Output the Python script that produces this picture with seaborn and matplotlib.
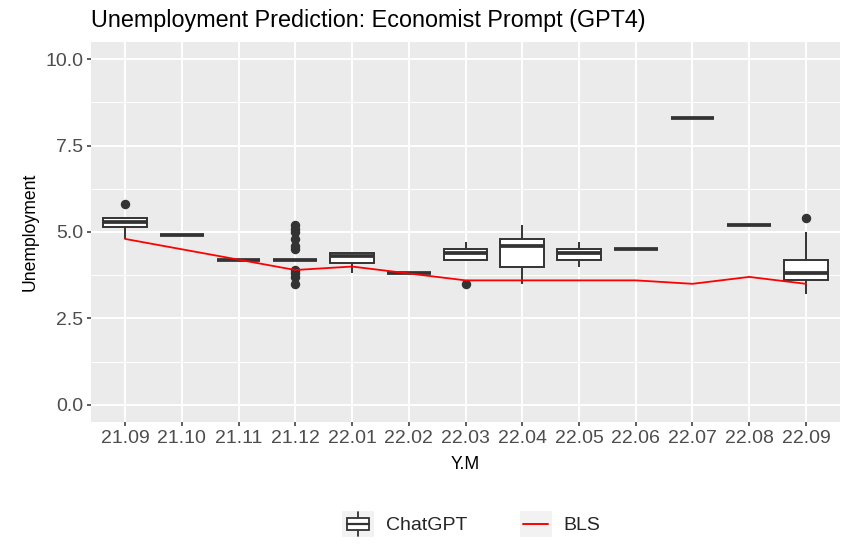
import numpy as np
import pandas as pd
import seaborn as sns
import matplotlib.pyplot as plt
from matplotlib.patches import Rectangle
from matplotlib.lines import Line2D
from matplotlib.legend_handler import HandlerBase
from matplotlib.ticker import MultipleLocator, FormatStrFormatter

months = ["21.09", "21.10", "21.11", "21.12", "22.01", "22.02", "22.03",
          "22.04", "22.05", "22.06", "22.07", "22.08", "22.09"]

# ChatGPT predictions per month
pred_2109 = [4.8, 5.1, 5.15, 5.2, 5.3, 5.4, 5.4, 5.4, 5.8]
pred_2110 = [4.9, 4.9, 4.9, 4.9, 4.9]
pred_2111 = [4.2, 4.2, 4.2, 4.2, 4.2]
pred_2112 = [4.2] * 30 + [5.2, 5.1, 5.0, 4.8, 4.6, 4.5, 3.9, 3.8, 3.7, 3.5]
pred_2201 = [3.8, 4.0, 4.1, 4.2, 4.3, 4.4, 4.4, 4.4, 4.4]
pred_2202 = [3.8, 3.8, 3.8, 3.8, 3.8]
pred_2203 = [3.5, 4.2, 4.2, 4.3, 4.4, 4.4, 4.5, 4.6, 4.7]
pred_2204 = [3.5, 3.8, 4.0, 4.4, 4.6, 4.7, 4.8, 5.0, 5.2]
pred_2205 = [4.0, 4.1, 4.2, 4.3, 4.4, 4.5, 4.5, 4.6, 4.7]
pred_2206 = [4.5, 4.5, 4.5, 4.5, 4.5]
pred_2207 = [8.3, 8.3, 8.3, 8.3, 8.3]
pred_2208 = [5.2, 5.2, 5.2, 5.2, 5.2]
pred_2209 = [3.2, 3.5, 3.6, 3.7, 3.8, 3.9, 4.2, 5.0, 5.4]

bls = [4.8, 4.5, 4.2, 3.9, 4.0, 3.8, 3.6, 3.6, 3.6, 3.6, 3.5, 3.7, 3.5]

preds = [pred_2109, pred_2110, pred_2111, pred_2112, pred_2201, pred_2202, pred_2203,
         pred_2204, pred_2205, pred_2206, pred_2207, pred_2208, pred_2209]
df = pd.DataFrame({
    "Y.M": [m for m, p in zip(months, preds) for _ in p],
    "Unemployment": [v for p in preds for v in p],
})

sns.set_theme(style="darkgrid", rc={"axes.facecolor": "#EBEBEB", "grid.color": "white"})
plt.rcParams["font.family"] = ["Liberation Sans", "DejaVu Sans"]

dark = "#333333"
fig = plt.figure(figsize=(8.55, 5.47), dpi=100)
ax = fig.add_axes([91 / 855, 1 - 422 / 547, (840 - 91) / 855, (422 - 42) / 547])

sns.boxplot(data=df, x="Y.M", y="Unemployment", order=months, color="white",
            linecolor=dark, linewidth=1.4, width=0.77, saturation=1,
            showcaps=False, whis=1.5,
            medianprops={"linewidth": 2.7, "color": dark},
            flierprops={"marker": "o", "markerfacecolor": dark,
                        "markeredgecolor": dark, "markersize": 5.8},
            ax=ax, zorder=3)
sns.pointplot(x=months, y=bls, color="red", marker="", linewidth=1.3,
              errorbar=None, ax=ax, zorder=4)

ax.set_xlim(-0.6, 12.6)
ax.set_ylim(-0.5, 10.5)
ax.yaxis.set_major_locator(MultipleLocator(2.5))
ax.yaxis.set_minor_locator(MultipleLocator(1.25))
ax.yaxis.set_major_formatter(FormatStrFormatter("%.1f"))
ax.grid(which="major", color="white", linewidth=1.4)
ax.grid(which="minor", axis="y", color="white", linewidth=0.7)
ax.grid(which="major", axis="x", color="white", linewidth=1.4)
ax.set_axisbelow(True)
for s in ax.spines.values():
    s.set_visible(False)
ax.tick_params(which="major", length=3, width=1.1, color=dark, labelcolor="#4D4D4D",
               labelsize=14, pad=2.5, bottom=True, left=True)
ax.tick_params(which="minor", length=0)

ax.set_xlabel("Y.M", fontsize=12.7, color="black", labelpad=7)
ax.set_ylabel("Unemployment", fontsize=12.7, color="black", labelpad=5)
fig.text(91 / 855, 1 - 27 / 547, "Unemployment Prediction: Economist Prompt (GPT4)",
         fontsize=16.8, color="black", ha="left", va="baseline")


class BoxKey(HandlerBase):
    def create_artists(self, legend, orig_handle, xd, yd, w, h, fontsize, trans):
        bg = Rectangle((-xd, -yd), w, h, facecolor="#F2F2F2", edgecolor="none", transform=trans)
        cx = -xd + w / 2
        box = Rectangle((-xd + w * 0.17, -yd + h * 0.25), w * 0.66, h * 0.5,
                        facecolor="white", edgecolor=dark, linewidth=1.3, transform=trans)
        wl = Line2D([cx, cx], [-yd + h * 0.02, -yd + h * 0.98], color=dark, linewidth=1.3, transform=trans)
        md = Line2D([-xd + w * 0.17, -xd + w * 0.83], [-yd + h / 2] * 2, color=dark,
                    linewidth=1.6, transform=trans)
        return [bg, wl, box, md]


class LineKey(HandlerBase):
    def create_artists(self, legend, orig_handle, xd, yd, w, h, fontsize, trans):
        bg = Rectangle((-xd, -yd), w, h, facecolor="#F2F2F2", edgecolor="none", transform=trans)
        ln = Line2D([-xd + w * 0.1, -xd + w * 0.9], [-yd + h / 2] * 2, color="red",
                    linewidth=1.4, transform=trans)
        return [bg, ln]


h_box = Rectangle((0, 0), 1, 1)
h_line = Line2D([0], [0])
fig.legend([h_box, h_line], ["ChatGPT", "BLS"], ncol=2, loc="center",
           bbox_to_anchor=(471 / 855, 1 - 524 / 547), frameon=False, fontsize=14,
           handler_map={h_box: BoxKey(), h_line: LineKey()},
           handlelength=1.65, handleheight=1.65, handletextpad=0.6, columnspacing=2.7)

fig.savefig("out.png", dpi=100)
